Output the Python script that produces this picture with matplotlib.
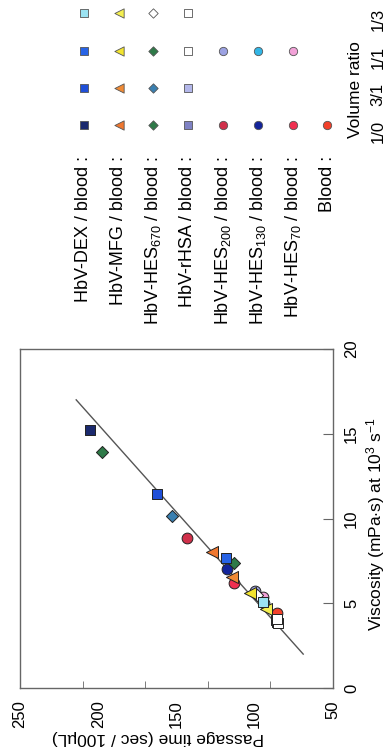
import matplotlib
matplotlib.use('Agg')
import matplotlib.pyplot as plt

plt.rcParams['font.family'] = ['Liberation Sans', 'DejaVu Sans']
plt.rcParams['mathtext.fontset'] = 'custom'
plt.rcParams['mathtext.rm'] = 'Liberation Sans'
plt.rcParams['mathtext.it'] = 'Liberation Sans:italic'

# volume ratios HbV / blood
ratios = ['1/0', '3/1', '1/1', '1/3']

# viscosity (mPa s) and passage time (sec / 100 uL)
dex_visc = [15.25, 11.45, 7.65, 5.05]
dex_time = [205.5, 162.5, 118.5, 95.0]
mfg_visc = [8.05, 6.55, 5.6, 4.65]
mfg_time = [127.0, 114.5, 103.0, 92.5]
hes670_visc = [13.9, 10.15, 7.35, 5.5]
hes670_time = [197.5, 153.0, 113.5, 98.5]
rhsa_visc = [3.9, 4.0, 3.85, 4.05]
rhsa_time = [85.5, 86.5, 85.0, 86.0]
hes200_visc = [8.85, 5.7]
hes200_time = [143.0, 100.0]
hes130_visc = [7.05, 5.0]
hes130_time = [118.0, 94.0]
hes70_visc = [6.2, 5.35]
hes70_time = [113.5, 94.5]
blood_visc = [4.4]
blood_time = [86.0]

# regression line: time = intercept + slope * viscosity
fit_slope = 9.67
fit_intercept = 49.7
fit_range = [2.0, 17.0]

series = [
    ('HbV-DEX / blood :', 's', dex_visc, dex_time, ['1/0', '3/1', '1/1', '1/3'],
     ['#1b2a6e', '#1f4fd8', '#2763e6', '#9be3f2']),
    ('HbV-MFG / blood :', '<', mfg_visc, mfg_time, ['1/0', '3/1', '1/1', '1/3'],
     ['#f07830', '#f08a35', '#f3e52e', '#f4ef50']),
    ('HbV-HES$_{670}$ / blood :', 'D', hes670_visc, hes670_time, ['1/0', '3/1', '1/1', '1/3'],
     ['#2e7a48', '#3a7fb0', '#2e7a48', '#ffffff']),
    ('HbV-rHSA / blood :', 's', rhsa_visc, rhsa_time, ['1/0', '3/1', '1/1', '1/3'],
     ['#7f82c4', '#b3b7ea', '#ffffff', '#ffffff']),
    ('HbV-HES$_{200}$ / blood :', 'o', hes200_visc, hes200_time, ['1/0', '1/1'],
     ['#d0304a', '#9ca2e2']),
    ('HbV-HES$_{130}$ / blood :', 'o', hes130_visc, hes130_time, ['1/0', '1/1'],
     ['#13249a', '#32b6e6']),
    ('HbV-HES$_{70}$ / blood :', 'o', hes70_visc, hes70_time, ['1/0', '1/1'],
     ['#f03050', '#f2a2d8']),
    ('Blood :', 'o', blood_visc, blood_time, ['1/0'],
     ['#f2402a']),
]
marker_size = {'s': 55, '<': 75, 'D': 38, 'o': 60}

W, H = 387, 755
fig = plt.figure(figsize=(W / 100, H / 100), dpi=100)

# main plot, drawn rotated: passage time runs right-to-left, viscosity upward
ax = fig.add_axes([20 / W, 1 - 688 / H, 313 / W, 339 / H])
ax.set_xlim(250, 50)
ax.set_ylim(0, 20)

fx = [fit_intercept + fit_slope * v for v in fit_range]
ax.plot(fx, fit_range, color='#555555', lw=1.0, zorder=1)

for name, mk, visc, time, rr, cols in reversed(series):
    for v, t, c in zip(visc, time, cols):
        ax.scatter([t], [v], marker=mk, s=marker_size[mk], color=c,
                   edgecolors='#222222', linewidths=0.7, zorder=3)

for s in ax.spines.values():
    s.set_color('#666666')
    s.set_linewidth(1.0)

ax.set_xticks([50, 100, 150, 200, 250])
ax.set_xticks([90, 130, 170, 210], minor=True)
ax.tick_params(axis='x', which='major', length=0, pad=9, labelsize=12,
               labelrotation=90)
ax.tick_params(axis='x', which='minor', direction='in', length=5,
               color='#666666')
ax.yaxis.tick_right()
ax.set_yticks([0, 5, 10, 15, 20])
ax.tick_params(axis='y', direction='in', length=7, pad=8, labelsize=12,
               labelrotation=90, color='#666666')
for lab in ax.get_yticklabels():
    lab.set_verticalalignment('center')

fig.text(376 / W, 1 - 524 / H, 'Viscosity (mPa$\\cdot$s) at 10$^{3}$ s$^{-1}$',
         rotation=90, ha='center', va='center', fontsize=12.5)
fig.text(158 / W, 1 - 737 / H, 'Passage time (sec / 100\u00b5L)',
         rotation=180, ha='center', va='center', fontsize=12.5)

# legend block (top right of the rotated page)
lg = fig.add_axes([0, 0, 1, 1], zorder=-1)
lg.set_xlim(0, W)
lg.set_ylim(H, 0)
lg.axis('off')

col_x = [84, 119, 153, 188, 223, 258, 293, 327]
row_y = {'1/0': 125, '3/1': 88, '1/1': 51, '1/3': 13}

for (name, mk, visc, time, rr, cols), x in zip(series, col_x):
    lg.text(x, 156, name, rotation=90, rotation_mode='anchor',
            ha='right', va='center', fontsize=13)
    for r, c in zip(rr, cols):
        lg.scatter([x], [row_y[r]], marker=mk, s=marker_size[mk] * 0.6,
                   color=c, edgecolors='#555555', linewidths=0.6)

lg.text(355, 90, 'Volume ratio', rotation=90, ha='center', va='center',
        fontsize=12.5)
for r in ratios:
    lg.text(378, row_y[r] + 6, r, rotation=90, ha='center', va='center',
            fontsize=12)

fig.savefig('out.png', dpi=100)
